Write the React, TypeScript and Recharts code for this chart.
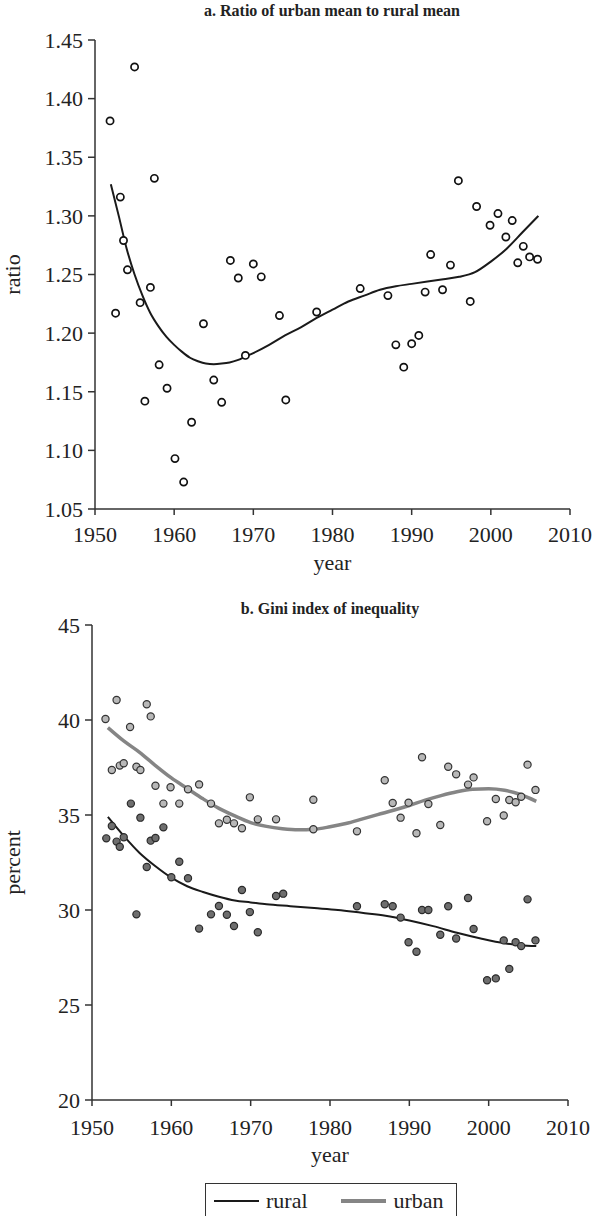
import { ComposedChart, Line, Scatter, XAxis, YAxis } from "recharts";

const FONT = '"Liberation Serif", "DejaVu Serif", serif';
const INK = "#222";

const yearTicks = [1950, 1960, 1970, 1980, 1990, 2000, 2010];
const ratioTicks = [1.05, 1.1, 1.15, 1.2, 1.25, 1.3, 1.35, 1.4, 1.45];
const percentTicks = [20, 25, 30, 35, 40, 45];

// panel a: survey points (year, urban/rural ratio)
const ratioYears = [
  1951.9, 1952.6, 1953.2, 1953.6, 1954.1, 1955.0, 1955.7, 1956.3, 1957.0, 1957.5,
  1958.1, 1959.1, 1960.1, 1961.2, 1962.2, 1963.7, 1965.0, 1966.0, 1967.1, 1968.1,
  1969.0, 1970.0, 1971.0, 1973.3, 1974.1, 1978.0, 1983.5, 1987.0, 1988.0, 1989.0,
  1990.0, 1990.9, 1991.7, 1992.4, 1993.9, 1994.9, 1995.9, 1997.4, 1998.2, 1999.9,
  2000.9, 2001.9, 2002.7, 2003.4, 2004.1, 2004.9, 2005.9,
];
const ratioValues = [
  1.381, 1.217, 1.316, 1.279, 1.254, 1.427, 1.226, 1.142, 1.239, 1.332,
  1.173, 1.153, 1.093, 1.073, 1.124, 1.208, 1.16, 1.141, 1.262, 1.247,
  1.181, 1.259, 1.248, 1.215, 1.143, 1.218, 1.238, 1.232, 1.19, 1.171,
  1.191, 1.198, 1.235, 1.267, 1.237, 1.258, 1.33, 1.227, 1.308, 1.292,
  1.302, 1.282, 1.296, 1.26, 1.274, 1.265, 1.263,
];

// panel a: smoothed fit
const ratioFitYears = [
  1952, 1953, 1954, 1955, 1956, 1957, 1958, 1959, 1960, 1961, 1962, 1963, 1964, 1965,
  1966, 1967, 1968, 1969, 1970, 1972, 1974, 1976, 1978, 1980, 1982, 1984, 1986, 1988,
  1990, 1992, 1994, 1996, 1998, 2000, 2002, 2004, 2006,
];
const ratioFitValues = [
  1.327, 1.3, 1.272, 1.25, 1.232, 1.217, 1.206, 1.197, 1.19, 1.184, 1.179, 1.176, 1.174, 1.1735,
  1.174, 1.175, 1.177, 1.18, 1.183, 1.19, 1.198, 1.205, 1.213, 1.22, 1.227, 1.232, 1.237, 1.24,
  1.242, 1.244, 1.246, 1.248, 1.252, 1.261, 1.272, 1.286, 1.3,
];

// panel b: Gini points
const urbanYears = [
  1951.7, 1952.5, 1953.1, 1953.5, 1954.0, 1954.8, 1955.6, 1956.1, 1956.9, 1957.4,
  1958.0, 1959.0, 1959.9, 1961.0, 1962.1, 1963.5, 1965.0, 1966.0, 1967.0, 1967.9,
  1968.9, 1969.9, 1970.9, 1973.2, 1977.9, 1977.9, 1983.4, 1986.9, 1987.9, 1988.9,
  1989.9, 1990.9, 1991.6, 1992.4, 1993.9, 1994.9, 1995.9, 1997.4, 1998.1, 1999.8,
  2000.9, 2001.9, 2002.6, 2003.4, 2004.1, 2004.9, 2005.9,
];
const urbanValues = [
  40.05, 37.37, 41.05, 37.6, 37.72, 39.63, 37.54, 37.37, 40.83, 40.19,
  36.54, 35.6, 36.46, 35.6, 36.35, 36.61, 35.6, 34.56, 34.75, 34.56,
  34.3, 35.93, 34.77, 34.77, 35.8, 34.25, 34.14, 36.83, 35.63, 34.86,
  35.65, 34.04, 38.04, 35.58, 34.47, 37.54, 37.14, 36.6, 36.98, 34.67,
  35.84, 34.97, 35.79, 35.67, 35.96, 37.65, 36.32,
];
const ruralYears = [
  1951.8, 1952.5, 1953.1, 1953.5, 1954.0, 1954.9, 1955.6, 1956.1, 1956.9, 1957.4,
  1958.0, 1959.0, 1960.0, 1961.0, 1962.1, 1963.5, 1965.0, 1966.0, 1967.0, 1967.9,
  1968.9, 1969.9, 1970.9, 1973.2, 1974.1, 1983.4, 1986.9, 1987.9, 1988.9, 1989.9,
  1990.9, 1991.6, 1992.4, 1993.9, 1994.9, 1995.9, 1997.4, 1998.1, 1999.8, 2000.9,
  2001.9, 2002.6, 2003.4, 2004.1, 2004.9, 2005.9,
];
const ruralValues = [
  33.77, 34.42, 33.6, 33.33, 33.83, 35.6, 29.77, 34.86, 32.26, 33.65,
  33.79, 34.35, 31.72, 32.54, 31.67, 29.02, 29.77, 30.21, 29.75, 29.16,
  31.05, 29.89, 28.83, 30.74, 30.86, 30.2, 30.3, 30.2, 29.6, 28.3,
  27.8, 30.0, 30.0, 28.7, 30.2, 28.5, 30.63, 29.0, 26.3, 26.4,
  28.4, 26.9, 28.3, 28.1, 30.56, 28.4,
];

// panel b: smoothed fits
const ruralFitYears = [
  1952, 1954, 1956, 1958, 1960, 1962, 1964, 1966, 1968, 1970, 1972, 1975,
  1978, 1981, 1984, 1987, 1990, 1993, 1996, 1999, 2002, 2004, 2006,
];
const ruralFitValues = [
  34.9, 33.9, 33.0, 32.3, 31.7, 31.25, 30.95, 30.7, 30.5, 30.4, 30.3, 30.2,
  30.1, 30.0, 29.85, 29.7, 29.45, 29.15, 28.8, 28.5, 28.25, 28.15, 28.1,
];
const urbanFitYears = [
  1952, 1954, 1956, 1958, 1960, 1962, 1964, 1966, 1968, 1970, 1972, 1974, 1976, 1978,
  1980, 1982, 1984, 1986, 1988, 1990, 1992, 1994, 1996, 1998, 2000, 2002, 2004, 2006,
];
const urbanFitValues = [
  39.6, 38.9, 38.3, 37.6, 36.95, 36.4, 35.85, 35.35, 34.95, 34.6, 34.4, 34.28, 34.22, 34.25,
  34.38, 34.55, 34.78, 35.02, 35.25, 35.5, 35.78, 36.02, 36.22, 36.35, 36.38, 36.3, 36.08, 35.72,
];

const zip = (xs: number[], ys: number[]) => xs.map((x, i) => ({ x, y: ys[i] }));

const ratioPoints = zip(ratioYears, ratioValues);
const ratioFit = zip(ratioFitYears, ratioFitValues);
const urbanPoints = zip(urbanYears, urbanValues);
const ruralPoints = zip(ruralYears, ruralValues);
const ruralFit = zip(ruralFitYears, ruralFitValues);
const urbanFit = zip(urbanFitYears, urbanFitValues);

const tickStyle = { fill: INK, fontSize: 22, fontFamily: FONT };
const axisStroke = { stroke: "#333", strokeWidth: 1.5 };
const labelStyle = { fill: INK, fontSize: 22, fontFamily: FONT };

function dot(fill: string, stroke: string, strokeWidth: number) {
  return (props: any) => (
    <circle cx={props.cx} cy={props.cy} r={3.6} fill={fill} stroke={stroke} strokeWidth={strokeWidth} />
  );
}

const titleStyle: React.CSSProperties = {
  position: "absolute",
  textAlign: "center",
  fontFamily: FONT,
  fontWeight: "bold",
  fontSize: 16,
  color: INK,
  whiteSpace: "nowrap",
};

function RatioChart() {
  return (
    <ComposedChart width={594} height={580} margin={{ top: 40, right: 24, bottom: 0, left: 0 }}>
      <XAxis
        type="number"
        dataKey="x"
        domain={[1950, 2010]}
        ticks={yearTicks}
        height={71}
        tickSize={6}
        tickMargin={11}
        tick={tickStyle}
        axisLine={axisStroke}
        tickLine={axisStroke}
        allowDataOverflow
        label={{ value: "year", position: "insideBottom", offset: 10, style: labelStyle }}
      />
      <YAxis
        type="number"
        dataKey="y"
        domain={[1.05, 1.45]}
        ticks={ratioTicks}
        width={95}
        tickSize={7}
        tickMargin={5}
        tick={tickStyle}
        tickFormatter={(v: number) => v.toFixed(2)}
        axisLine={axisStroke}
        tickLine={axisStroke}
        allowDataOverflow
        label={{ value: "ratio", angle: -90, position: "insideLeft", offset: 12, style: { ...labelStyle, textAnchor: "middle" } }}
      />
      <Scatter data={ratioPoints} shape={dot("#fff", "#111", 1.7)} isAnimationActive={false} />
      <Line
        data={ratioFit}
        dataKey="y"
        type="monotone"
        dot={false}
        stroke="#1a1a1a"
        strokeWidth={2}
        isAnimationActive={false}
      />
    </ComposedChart>
  );
}

function GiniChart() {
  return (
    <ComposedChart width={594} height={610} margin={{ top: 65, right: 26, bottom: 0, left: 0 }}>
      <XAxis
        type="number"
        dataKey="x"
        domain={[1950, 2010]}
        ticks={yearTicks}
        height={70}
        tickSize={6}
        tickMargin={13}
        tick={tickStyle}
        axisLine={axisStroke}
        tickLine={axisStroke}
        allowDataOverflow
        label={{ value: "year", position: "insideBottom", offset: 8, style: labelStyle }}
      />
      <YAxis
        type="number"
        dataKey="y"
        domain={[20, 45]}
        ticks={percentTicks}
        width={92}
        tickSize={7}
        tickMargin={5}
        tick={tickStyle}
        axisLine={axisStroke}
        tickLine={axisStroke}
        allowDataOverflow
        label={{ value: "percent", angle: -90, position: "insideLeft", offset: 12, style: { ...labelStyle, textAnchor: "middle" } }}
      />
      <Scatter data={urbanPoints} shape={dot("#b8b8b8", "#333", 1.2)} isAnimationActive={false} />
      <Scatter data={ruralPoints} shape={dot("#6e6e6e", "#2a2a2a", 1.2)} isAnimationActive={false} />
      <Line
        data={urbanFit}
        dataKey="y"
        type="monotone"
        dot={false}
        stroke="#858585"
        strokeWidth={3.5}
        isAnimationActive={false}
      />
      <Line
        data={ruralFit}
        dataKey="y"
        type="monotone"
        dot={false}
        stroke="#1a1a1a"
        strokeWidth={2}
        isAnimationActive={false}
      />
    </ComposedChart>
  );
}

function LegendBox() {
  const swatch = (color: string, thickness: number, gapAfter: number) => (
    <div style={{ width: 45, height: thickness, background: color, marginRight: gapAfter }} />
  );
  return (
    <div
      style={{
        position: "absolute",
        left: 205,
        top: 1183,
        width: 252,
        height: 36,
        boxSizing: "border-box",
        border: "1.5px solid #333",
        display: "flex",
        alignItems: "center",
        paddingLeft: 8,
        fontFamily: FONT,
        fontSize: 22,
        color: INK,
        lineHeight: "24px",
      }}
    >
      {swatch("#1a1a1a", 2, 7)}
      <span style={{ marginRight: 33 }}>rural</span>
      {swatch("#858585", 4, 8)}
      <span>urban</span>
    </div>
  );
}

export default function App() {
  return (
    <div style={{ position: "absolute", left: 0, top: 0, width: 594, height: 1216, overflow: "hidden", background: "#fff" }}>
      <div style={{ ...titleStyle, left: 94, top: 2, width: 476 }}>a. Ratio of urban mean to rural mean</div>
      <div style={{ position: "absolute", left: 0, top: 0 }}>
        <RatioChart />
      </div>
      <div style={{ ...titleStyle, left: 92, top: 600, width: 476 }}>b. Gini index of inequality</div>
      <div style={{ position: "absolute", left: 0, top: 560 }}>
        <GiniChart />
      </div>
      <LegendBox />
    </div>
  );
}
